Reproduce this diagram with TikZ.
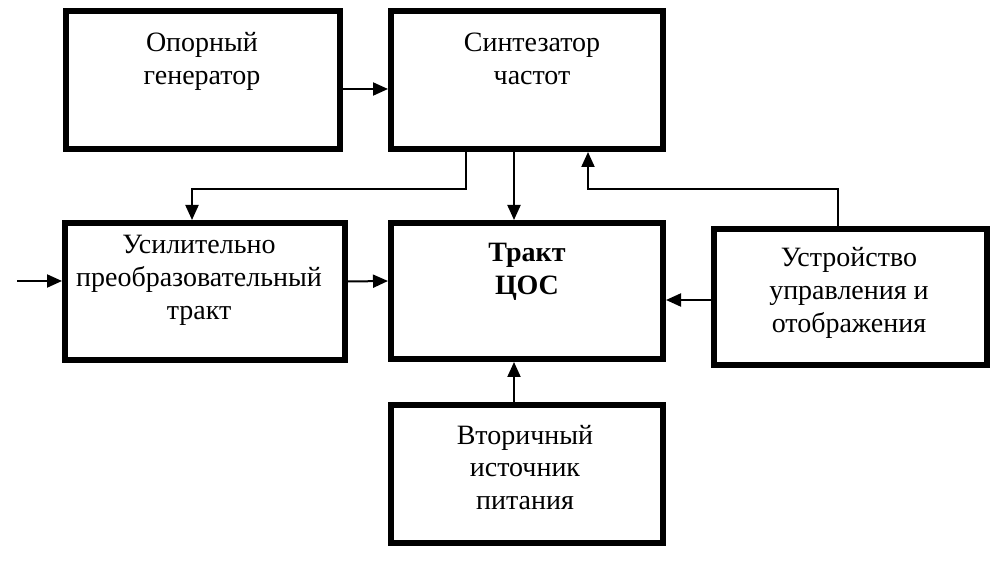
\documentclass[tikz,border=0pt]{standalone}
\usepackage{fontspec}
\setmainfont{Liberation Serif}
\usetikzlibrary{arrows.meta}

\tikzset{
  blok/.style={draw, line width=6pt, minimum width=272pt, minimum height=138pt, inner sep=0pt},
  txt/.style={align=center, anchor=base, inner sep=0pt, font=\fontsize{28}{33}\selectfont},
  svyaz/.style={line width=2pt, -{Triangle[length=15pt,width=13pt]}}
}

\begin{document}
\begin{tikzpicture}[x=1pt,y=-1pt,>={Triangle[length=15pt,width=13pt]}]
\useasboundingbox (0,0) rectangle (997,561);
% bloki
\node[blok, minimum width=274pt] (og) at (203,80) {};
\node[blok] (sch) at (527,80) {};
\node[blok, minimum width=280pt, minimum height=137pt] (upt) at (205,291.5) {};
\node[blok, minimum height=136pt] (cos) at (527,291) {};
\node[blok, minimum width=273pt, minimum height=136pt] (uuo) at (850.5,297) {};
\node[blok] (vip) at (527,474) {};
% nadpisi (base = poslednyaya stroka)
\node[txt] (og-t) at (202,85) {Опорный\\генератор};
\node[txt] (sch-t) at (532,85) {Синтезатор\\частот};
\node[txt] (upt-t) at (199,320) {Усилительно\\преобразовательный\\тракт};
\node[txt, font=\fontsize{28}{33}\selectfont\bfseries] (cos-t) at (527,295) {Тракт\\ЦОС};
\node[txt] (uuo-t) at (849,333) {Устройство\\управления и\\отображения};
\node[txt] (vip-t) at (525,510) {Вторичный\\источник\\питания};
\coordinate (vhod) at (17,281);
% svyazi
\draw[svyaz] ([yshift=-9pt]og.east) -- ([yshift=-9pt]sch.west);
\draw[svyaz] ([xshift=-61pt]sch.south) -- ++(0,37) -| ([xshift=-13pt]upt.north);
\draw[svyaz] ([xshift=-13pt]sch.south) -- ([xshift=-13pt]cos.north);
\draw[svyaz] ([xshift=-12.5pt]uuo.north) -- ++(0,-37) -| ([xshift=61pt]sch.south);
\draw[svyaz] (vhod) -- (vhod -| upt.west);
\draw[svyaz] ([yshift=10pt]upt.east) -- ([yshift=10pt]cos.west);
\draw[svyaz] ([yshift=-3pt]uuo.west) -- ([yshift=-9pt]cos.east);
\draw[svyaz] ([xshift=-13pt]vip.north) -- ([xshift=-13pt]cos.south);
\end{tikzpicture}
\end{document}
